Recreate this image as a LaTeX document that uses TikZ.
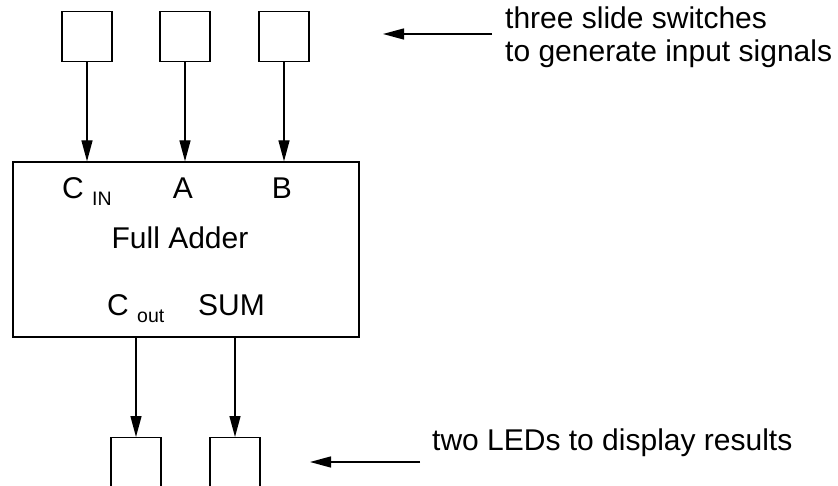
\documentclass[tikz,border=0pt]{standalone}
\usepackage{fontspec}
\setmainfont{Liberation Sans}
\usetikzlibrary{arrows.meta}
\tikzset{
  wire/.style={line width=1.3pt, -{Triangle[length=21pt,width=11pt]}},
  box/.style={draw, line width=1.3pt, inner sep=0pt},
  lbl/.style={inner sep=0pt, font=\fontsize{30}{34}\selectfont},
}
\newcommand{\lowsub}[1]{\raisebox{-7pt}{\fontsize{19.5}{19.5}\selectfont #1}}
\begin{document}
\begin{tikzpicture}[x=1pt,y=-1pt]
\useasboundingbox (0,0) rectangle (838,486);
\clip (0,0) rectangle (838,486);
% switches
\node[box, minimum width=50pt, minimum height=50pt] (s1) at (87,36.5) {};
\node[box, minimum width=50pt, minimum height=50pt] (s2) at (185,36.5) {};
\node[box, minimum width=50pt, minimum height=50pt] (s3) at (284,36.5) {};
% full adder
\node[box, minimum width=346pt, minimum height=175pt] (fa) at (186,249.5) {};
\node[lbl, anchor=base west] (cin) at (62,199) {C \lowsub{IN}};
\node[lbl, anchor=base] (a) at (183,199) {A};
\node[lbl, anchor=base] (b) at (282,199) {B};
\node[lbl, anchor=base] (name) at (180,249) {Full Adder};
\node[lbl, anchor=base west] (cout) at (107,316) {C \lowsub{out}};
\node[lbl, anchor=base west] (sum) at (198,316) {SUM};
% LEDs
\node[box, minimum width=50pt, minimum height=70pt, anchor=north] (l1) at (136,437) {};
\node[box, minimum width=50pt, minimum height=70pt, anchor=north] (l2) at (235,437) {};
% wires
\draw[wire] (s1.south) -- (s1.south |- fa.north);
\draw[wire] (s2.south) -- (s2.south |- fa.north);
\draw[wire] (s3.south) -- (s3.south |- fa.north);
\draw[wire] (l1.north |- fa.south) -- (l1.north);
\draw[wire] (l2.north |- fa.south) -- (l2.north);
% annotations
\node[lbl, anchor=base west] (t1) at (505,29) {three slide switches};
\node[lbl, anchor=base west] (t2) at (505,62) {to generate input signals};
\coordinate (ta) at (492,34);
\coordinate (tb) at (383,34);
\draw[wire] (ta) -- (tb);
\node[lbl, anchor=base west] (t3) at (432,450) {two LEDs to display results};
\coordinate (ba) at (420,462);
\coordinate (bb) at (310,462);
\draw[wire] (ba) -- (bb);
\end{tikzpicture}
\end{document}
